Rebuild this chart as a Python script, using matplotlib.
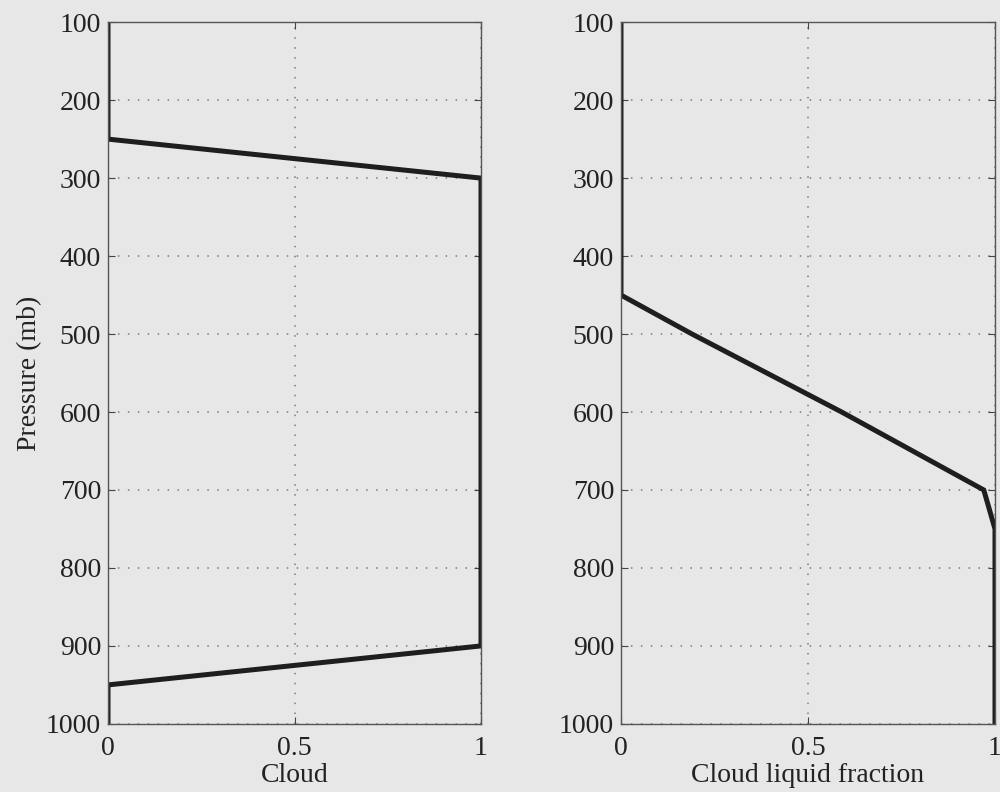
import numpy as np
import matplotlib
import matplotlib.pyplot as plt

matplotlib.use('Agg')

# Profiles
pressure_cloud = [100, 250, 300, 900, 950, 1000]
cloud = [0, 0, 1, 1, 0, 0]

pressure_liq = [100, 450, 500, 550, 600, 650, 700, 750, 1000]
liquid_fraction = [0, 0, 0.19, 0.39, 0.59, 0.78, 0.97, 1.0, 1.0]

y_ticks = [100, 200, 300, 400, 500, 600, 700, 800, 900, 1000]
x_ticks = [0, 0.5, 1]
x_ticklabels = ['0', '0.5', '1']

bg = '#e7e7e7'
plt.rcParams['font.family'] = ['Liberation Serif', 'DejaVu Serif']
plt.rcParams['font.size'] = 20

fig = plt.figure(figsize=(10, 7.92), dpi=100, facecolor=bg)
ax1 = fig.add_axes([0.108, 0.086, 0.373, 0.886])
ax2 = fig.add_axes([0.621, 0.086, 0.374, 0.886])

panels = [
    (ax1, cloud, pressure_cloud, 'Cloud'),
    (ax2, liquid_fraction, pressure_liq, 'Cloud liquid fraction'),
]

for ax, xv, pv, label in panels:
    ax.set_facecolor(bg)
    ax.plot(xv, pv, color='#1e1e1e', lw=3.6, solid_joinstyle='miter')
    ax.set_xlim(0, 1)
    ax.set_ylim(1000, 100)
    ax.set_yticks(y_ticks)
    ax.set_xticks(x_ticks)
    ax.set_xticklabels(x_ticklabels)
    ax.set_xlabel(label, color='#222222', labelpad=1)
    ax.grid(True, linestyle=(0, (1, 5.5)), color='#7a7a7a', lw=1.1)
    ax.tick_params(direction='in', length=5, width=0.8, color='#444444',
                   labelcolor='#222222', top=True, right=True)
    ax.tick_params(axis='x', pad=9)
    ax.tick_params(axis='y', pad=5)
    for s in ax.spines.values():
        s.set_color('#555555')
        s.set_linewidth(1.0)

ax1.set_ylabel('Pressure (mb)', color='#222222', labelpad=3)

plt.savefig('out.png', dpi=100, facecolor=bg)
